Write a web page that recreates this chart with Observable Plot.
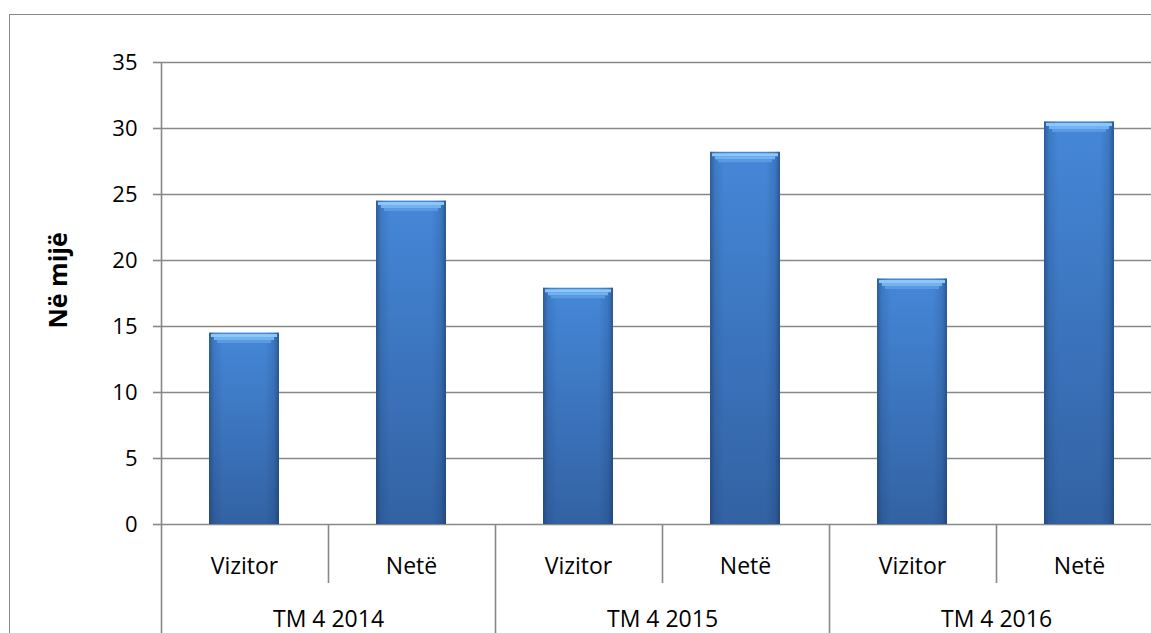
<!DOCTYPE html>
<html><head><meta charset="utf-8">
<script src="https://cdn.jsdelivr.net/npm/d3@7"></script>
<script src="https://cdn.jsdelivr.net/npm/@observablehq/plot@0.6"></script>
<style>
html,body{margin:0;padding:0;background:#fff;overflow:hidden;}
#chart{position:relative;width:1151px;height:633px;overflow:hidden;}
#border{position:absolute;left:9px;top:14px;width:1400px;height:900px;border:1px solid #888;pointer-events:none;z-index:2;}
</style></head><body>
<div id="chart"><div id="border"></div></div>
<script>
const groups = ["TM 4 2014", "TM 4 2015", "TM 4 2016"];
const types = ["Vizitor", "Netë"];
const vizitor = [14.5, 17.9, 18.6];
const nete = [24.5, 28.2, 30.5];
const yTicks = [0, 5, 10, 15, 20, 25, 30, 35];
const yLabel = "Në mijë";

const data = groups.flatMap((g, i) => [
  {group: g, type: types[0], value: vizitor[i]},
  {group: g, type: types[1], value: nete[i]}
]);

const W = 1151, H = 633, mL = 161, mR = -12, mT = 62, mB = 109;
const facetW = (W - mL - mR) / groups.length;
const gridColor = "#888888";
const font = "'Open Sans', sans-serif";

const plot = Plot.plot({
  width: W, height: H,
  marginLeft: mL, marginRight: mR, marginTop: mT, marginBottom: mB,
  style: {fontFamily: font, background: "transparent", overflow: "visible", color: "#000", maxWidth: "none"},
  fx: {domain: groups, padding: 0, axis: null},
  x: {domain: types, paddingInner: 0.58, paddingOuter: 0.29, axis: null},
  y: {domain: [0, 35], axis: null},
  marks: [
    Plot.gridY(yTicks, {stroke: gridColor, strokeOpacity: 1, strokeWidth: 1.6}),
    Plot.barY(data, {fx: "group", x: "type", y: "value", fill: "url(#gBar)"}),
    Plot.barY(data, {fx: "group", x: "type", y: "value", fill: "url(#gEdge)"}),
    Plot.tickY(data, {fx: "group", x: "type", y: "value", stroke: "#8dc7f7", strokeWidth: 3, dy: 2.5, insetLeft: 2, insetRight: 2}),
    Plot.tickY(data, {fx: "group", x: "type", y: "value", stroke: "#74b2ef", strokeWidth: 3, dy: 5.5, insetLeft: 5, insetRight: 5}),
    Plot.tickY(data, {fx: "group", x: "type", y: "value", stroke: "#5b9ae2", strokeWidth: 3, dy: 8.5, insetLeft: 8, insetRight: 8}),
    Plot.ruleX(groups, {fx: d => d, x: null, y1: 0, y2: 0, stroke: gridColor, strokeWidth: 1.6, insetBottom: -59}),
    Plot.ruleX(groups, {fx: d => d, x: null, dx: -facetW / 2, y1: (d, i) => (i === 0 ? yTicks[yTicks.length - 1] : 0), y2: 0, stroke: gridColor, strokeWidth: 1.6, insetBottom: -120}),
    Plot.axisY({ticks: yTicks, tickSize: 8, tickPadding: 16, fontSize: 22, stroke: gridColor, strokeWidth: 1.6, fill: "#000", label: null, tickFormat: d => String(d)}),
    Plot.axisX({tickSize: 0, tickPadding: 33, fontSize: 23, fill: "#000", label: null}),
    Plot.axisFx({anchor: "bottom", tickSize: 0, tickPadding: 86, fontSize: 23, fill: "#000", label: null}),
    Plot.text([yLabel], {fx: () => groups[0], frameAnchor: "left", text: d => d, rotate: -90, dx: -103, dy: 35, fontSize: 25, fontWeight: "bold", fill: "#000"})
  ]
});

const svg = plot.tagName.toLowerCase() === "svg" ? plot : plot.querySelector("svg");
svg.insertAdjacentHTML("afterbegin", `<defs>
<linearGradient id="gBar" x1="0" y1="0" x2="0" y2="1">
<stop offset="0" stop-color="#4587d8"/><stop offset="1" stop-color="#3262a3"/>
</linearGradient>
<linearGradient id="gEdge" x1="0" y1="0" x2="1" y2="0">
<stop offset="0" stop-color="#16325e" stop-opacity="0.5"/>
<stop offset="0.07" stop-color="#16325e" stop-opacity="0.15"/>
<stop offset="0.2" stop-color="#16325e" stop-opacity="0"/>
<stop offset="0.8" stop-color="#16325e" stop-opacity="0"/>
<stop offset="0.93" stop-color="#16325e" stop-opacity="0.18"/>
<stop offset="1" stop-color="#16325e" stop-opacity="0.55"/>
</linearGradient></defs>`);
document.getElementById("chart").appendChild(plot);
</script>
</body></html>
